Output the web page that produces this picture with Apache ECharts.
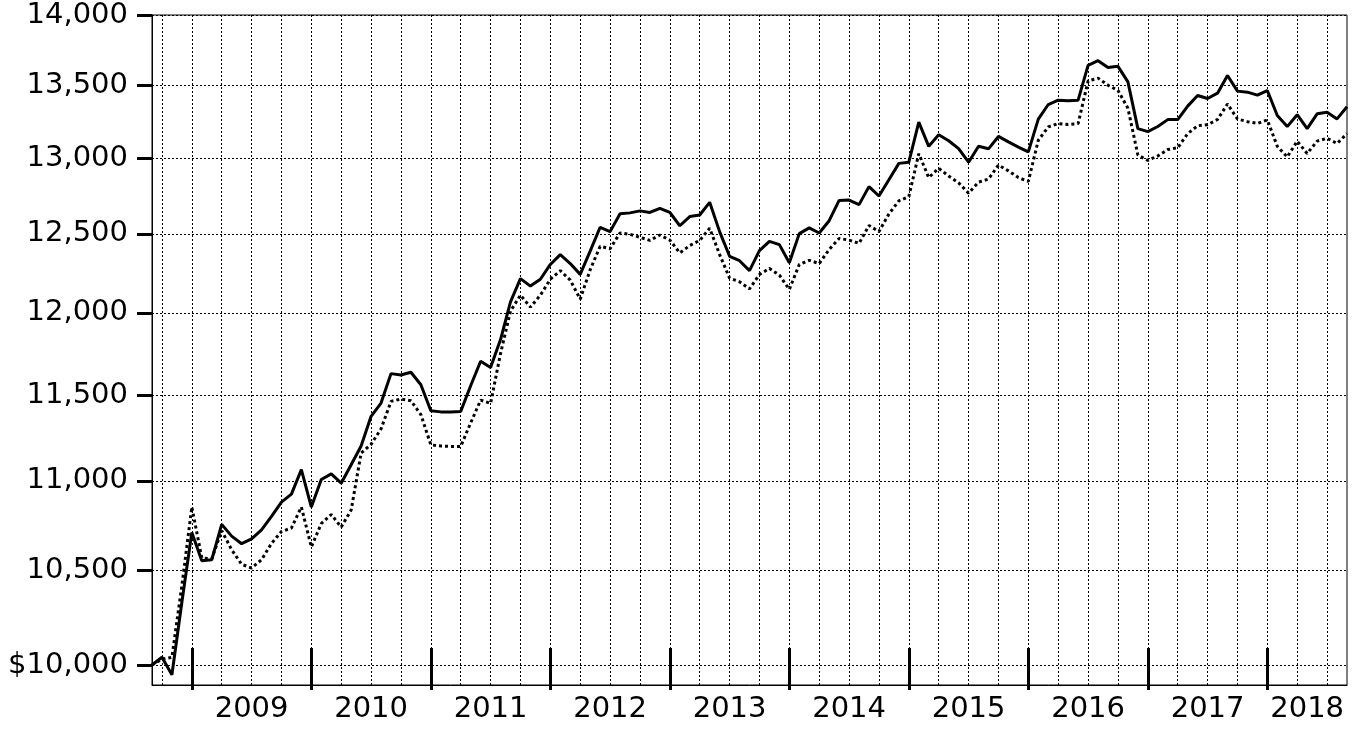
<!DOCTYPE html>
<html>
<head>
<meta charset="utf-8">
<script src="https://cdn.jsdelivr.net/npm/echarts@6/dist/echarts.min.js"></script>
<style>
html,body{margin:0;padding:0;background:#fff;}
#chart{width:1363px;height:740px;}
</style>
</head>
<body>
<div id="chart"></div>
<script>
// Month-end categories: Aug 2008 .. Aug 2018
const months = [];
for (let y = 2008; y <= 2018; y++) {
  for (let m = 1; m <= 12; m++) {
    if ((y === 2008 && m < 8) || (y === 2018 && m > 8)) continue;
    months.push(y + '-' + (m < 10 ? '0' + m : m));
  }
}

const fundValues = [
  10000, 10040, 9950, 10330, 10710, 10555, 10560, 10755, 10690, 10648,
  10675, 10725, 10800, 10880, 10925, 11064, 10852, 11008, 11040, 10987,
  11092, 11200, 11374, 11452, 11628, 11620, 11636, 11561, 11407, 11400,
  11400, 11402, 11555, 11703, 11665, 11835, 12068, 12214, 12167, 12210,
  12304, 12367, 12310, 12241, 12389, 12543, 12515, 12631, 12637, 12650,
  12640, 12667, 12640, 12553, 12613, 12623, 12706, 12515, 12356, 12328,
  12265, 12392, 12452, 12431, 12315, 12502, 12539, 12506, 12586, 12719,
  12721, 12691, 12810, 12748, 12855, 12965, 12973, 13245, 13080, 13158,
  13118, 13064, 12973, 13080, 13063, 13147, 13110, 13075, 13042, 13265,
  13366, 13396, 13393, 13396, 13640, 13673, 13624, 13633, 13524, 13200,
  13180, 13215, 13262, 13262, 13355, 13429, 13408, 13445, 13568, 13459,
  13452, 13431, 13463, 13290, 13214, 13296, 13200, 13302, 13313, 13267,
  13351
];

const indexValues = [
  10000, 10030, 10040, 10420, 10852, 10570, 10565, 10720, 10615, 10535,
  10515, 10560, 10650, 10715, 10735, 10852, 10630, 10760, 10810, 10740,
  10835, 11160, 11210, 11300, 11462, 11476, 11466, 11384, 11207, 11200,
  11198, 11198, 11335, 11470, 11450, 11750, 12010, 12110, 12035, 12110,
  12210, 12265, 12205, 12085, 12270, 12420, 12405, 12506, 12498, 12478,
  12458, 12493, 12460, 12378, 12425, 12458, 12537, 12367, 12217, 12194,
  12150, 12240, 12279, 12236, 12146, 12304, 12330, 12310, 12400, 12471,
  12460, 12439, 12555, 12515, 12630, 12716, 12744, 13030, 12870, 12932,
  12880, 12835, 12767, 12840, 12860, 12954, 12915, 12870, 12845, 13121,
  13212, 13235, 13229, 13235, 13530, 13550, 13500, 13464, 13340, 13021,
  12985, 13015, 13058, 13070, 13166, 13220, 13227, 13263, 13370, 13266,
  13248, 13236, 13260, 13080, 13008, 13115, 13031, 13115, 13135, 13099,
  13166
];

const yTicks = [10000, 10500, 11000, 11500, 12000, 12500, 13000, 13500, 14000];
const yearTickMonths = ['2008-12','2009-12','2010-12','2011-12','2012-12','2013-12','2014-12','2015-12','2016-12','2017-12'];
const yearLabelMonths = ['2009-06','2010-06','2011-06','2012-06','2013-06','2014-06','2015-06','2016-06','2017-06','2018-04'];

const FONT = 'DejaVu Sans';
const chart = echarts.init(document.getElementById('chart'), null, {renderer: 'canvas'});

const isYearTick = (i, v) => yearTickMonths.indexOf(months[i]) >= 0;
const isQuarter = (i, v) => (parseInt(months[i].slice(5), 10) % 3) === 0;

chart.setOption({
  animation: false,
  backgroundColor: '#fff',
  grid: {
    left: 152, right: 16, top: 15, bottom: 55,
    show: true, borderColor: '#000', borderWidth: 1, backgroundColor: 'transparent'
  },
  xAxis: [{
    type: 'category',
    position: 'bottom',
    data: months,
    boundaryGap: false,
    axisLine: {show: true, onZero: false, lineStyle: {color: '#000', width: 1}},
    axisTick: {show: true, inside: false, length: 5, interval: isYearTick, lineStyle: {color: '#000', width: 3}},
    axisLabel: {
      show: true,
      interval: (i, v) => yearLabelMonths.indexOf(months[i]) >= 0,
      formatter: v => v.slice(0, 4),
      color: '#000', fontFamily: FONT, fontSize: 29, margin: 10
    },
    splitLine: {show: true, interval: isQuarter, lineStyle: {color: '#000', width: 1, type: [2, 2]}}
  }, {
    type: 'category',
    position: 'bottom',
    data: months,
    boundaryGap: false,
    axisLine: {show: false, onZero: false},
    axisTick: {show: true, inside: true, length: 37, interval: isYearTick, lineStyle: {color: '#000', width: 3}},
    axisLabel: {show: false},
    splitLine: {show: false}
  }],
  yAxis: {
    type: 'log',
    logBase: 10,
    min: 9897,
    max: 14000,
    axisLine: {show: true, lineStyle: {color: '#000', width: 1}},
    axisTick: {show: true, inside: false, length: 15, customValues: yTicks, lineStyle: {color: '#000', width: 3}},
    axisLabel: {
      show: true,
      customValues: yTicks,
      formatter: v => (v === 10000 ? '$' : '') + Number(v).toLocaleString('en-US'),
      color: '#000', fontFamily: FONT, fontSize: 29, margin: 24
    },
    splitLine: {show: true, lineStyle: {color: '#000', width: 1, type: [2, 2]}}
  },
  series: [{
    type: 'line',
    name: 'Fund',
    data: fundValues,
    xAxisIndex: 0,
    symbol: 'none',
    lineStyle: {color: '#000', width: 3, type: 'solid'},
    z: 3
  }, {
    type: 'line',
    name: 'Index',
    data: indexValues,
    xAxisIndex: 0,
    symbol: 'none',
    lineStyle: {color: '#000', width: 3, type: [3, 3]},
    z: 2
  }]
});
</script>
</body>
</html>
